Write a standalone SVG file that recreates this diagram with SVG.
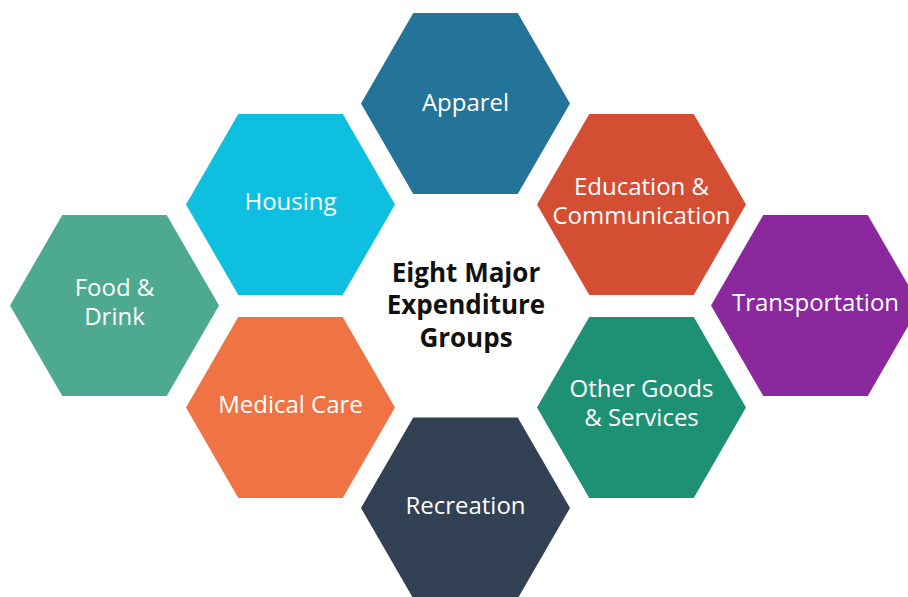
<svg xmlns="http://www.w3.org/2000/svg" xmlns:xlink="http://www.w3.org/1999/xlink" width="908" height="597" viewBox="0 0 908 597">
<style>
.lbl{font-family:"Open Sans","Noto Sans","Liberation Sans",sans-serif;font-size:24px;fill:#ffffff;text-anchor:middle}
.title{font-family:"Open Sans","Noto Sans","Liberation Sans",sans-serif;font-size:26px;font-weight:bold;fill:#111111;text-anchor:middle}
</style>
<defs>
<polygon id="hex" points="-104.5,0 -52.25,-90.5 52.25,-90.5 104.5,0 52.25,90.5 -52.25,90.5"/>
</defs>
<rect width="908" height="597" fill="#ffffff"/>
<g id="connectors"></g>
<g id="apparel">
<use xlink:href="#hex" href="#hex" transform="translate(465.5,103.5)" fill="#247399"/>
<text class="lbl" x="465.5" y="111">Apparel</text>
</g>
<g id="housing">
<use xlink:href="#hex" href="#hex" transform="translate(290.5,204.5)" fill="#0fbfdf"/>
<text class="lbl" x="290.5" y="210">Housing</text>
</g>
<g id="education">
<use xlink:href="#hex" href="#hex" transform="translate(641.5,204.5)" fill="#d44e34"/>
<text class="lbl" x="641.5" y="195">Education &amp;</text>
<text class="lbl" x="641.5" y="224">Communication</text>
</g>
<g id="food">
<use xlink:href="#hex" href="#hex" transform="translate(114.5,305.5)" fill="#4daa91"/>
<text class="lbl" x="114.5" y="296">Food &amp;</text>
<text class="lbl" x="114.5" y="325">Drink</text>
</g>
<g id="transportation">
<use xlink:href="#hex" href="#hex" transform="translate(815.5,305.5)" fill="#8b289e"/>
<text class="lbl" x="815.5" y="311">Transportation</text>
</g>
<g id="medical">
<use xlink:href="#hex" href="#hex" transform="translate(290.5,407.5)" fill="#f07443"/>
<text class="lbl" x="290.5" y="413">Medical Care</text>
</g>
<g id="other">
<use xlink:href="#hex" href="#hex" transform="translate(641.5,407.5)" fill="#1e9174"/>
<text class="lbl" x="641.5" y="397">Other Goods</text>
<text class="lbl" x="641.5" y="426">&amp; Services</text>
</g>
<g id="recreation">
<use xlink:href="#hex" href="#hex" transform="translate(465.5,508)" fill="#334155"/>
<text class="lbl" x="465.5" y="514">Recreation</text>
</g>
<g id="center">
<text class="title" x="466" y="282">Eight Major</text>
<text class="title" x="466" y="314">Expenditure</text>
<text class="title" x="466" y="347">Groups</text>
</g>
</svg>
